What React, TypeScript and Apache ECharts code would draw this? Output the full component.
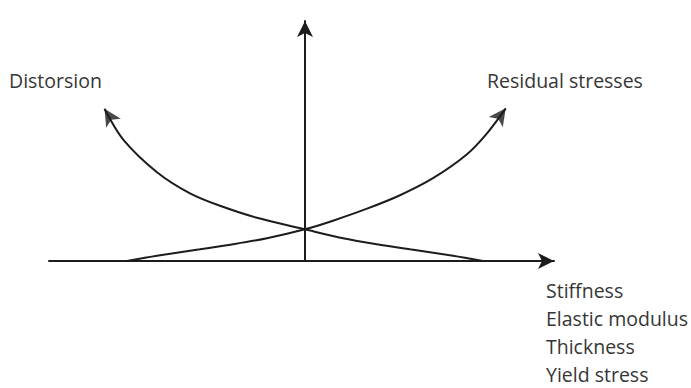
import React, { useEffect, useRef } from "react";
import * as echarts from "echarts";

// Curve values (arbitrary units, x centred on the vertical axis)
const distortionX = [-8.02, -7.28, -5.92, -4.6, -3.4, -1.92, 0, 1.52, 2.88, 4.2, 5.92, 7.12];
const distortionY = [6.34, 5.07, 3.7, 2.82, 2.3, 1.8, 1.32, 0.95, 0.7, 0.49, 0.22, 0];

const residualX = [-7.12, -5.92, -4.2, -2.88, -1.52, 0, 1.12, 2.48, 3.8, 5.12, 6.48, 7.28, 8.03];
const residualY = [0, 0.22, 0.49, 0.7, 0.95, 1.32, 1.68, 2.18, 2.74, 3.45, 4.45, 5.32, 6.36];

const curveLabels = ["Distorsion", "Residual stresses"];
const xAxisLabels = ["Stiffness", "Elastic modulus", "Thickness", "Yield stress"];

const INK = "#1c1c1c";
const TEXT = "#363636";
const FONT = "'Open Sans', 'Noto Sans', sans-serif";

export default function App() {
  const ref = useRef<HTMLDivElement>(null);

  useEffect(() => {
    if (!ref.current) return;
    const chart = echarts.init(ref.current, null, { renderer: "svg" });

    const dData = distortionX.map((x, i) => [x, distortionY[i]]);
    const rData = residualX.map((x, i) => [x, residualY[i]]);

    const axisLine = {
      show: true,
      onZero: true,
      symbol: ["none", "arrow"],
      symbolSize: [12, 16],
      lineStyle: { color: INK, width: 2 },
    };

    chart.setOption({
      animation: false,
      backgroundColor: "#ffffff",
      grid: { left: 49, right: 137, top: 21, bottom: 127, containLabel: false },
      xAxis: {
        type: "value",
        min: -10.24,
        max: 9.96,
        axisLine,
        axisTick: { show: false },
        axisLabel: { show: false },
        splitLine: { show: false },
      },
      yAxis: {
        type: "value",
        min: 0,
        max: 10,
        axisLine,
        axisTick: { show: false },
        axisLabel: { show: false },
        splitLine: { show: false },
      },
      series: [
        {
          name: curveLabels[0],
          type: "line",
          data: dData,
          smooth: 0.3,
          showSymbol: false,
          lineStyle: { color: INK, width: 2 },
          z: 3,
        },
        {
          name: curveLabels[1],
          type: "line",
          data: rData,
          smooth: 0.3,
          showSymbol: false,
          lineStyle: { color: INK, width: 2 },
          z: 3,
        },
        {
          type: "scatter",
          data: [dData[0]],
          symbol: "arrow",
          symbolSize: [13, 17],
          symbolRotate: 32,
          itemStyle: { color: INK },
          z: 5,
        },
        {
          type: "scatter",
          data: [rData[rData.length - 1]],
          symbol: "arrow",
          symbolSize: [13, 17],
          symbolRotate: -36,
          itemStyle: { color: INK },
          z: 5,
        },
      ],
      graphic: [
        {
          type: "text",
          left: 9,
          top: 70,
          style: { text: curveLabels[0], font: `19.5px ${FONT}`, fill: TEXT },
        },
        {
          type: "text",
          left: 487,
          top: 70,
          style: { text: curveLabels[1], font: `19.5px ${FONT}`, fill: TEXT },
        },
        ...xAxisLabels.map((t, i) => ({
          type: "text",
          left: 546,
          top: 280 + i * 28.3,
          style: { text: t, font: `19.5px ${FONT}`, fill: TEXT },
        })),
      ],
    });

    return () => chart.dispose();
  }, []);

  return (
    <div
      ref={ref}
      style={{ position: "fixed", left: 0, top: 0, width: 691, height: 388, background: "#fff" }}
    />
  );
}
